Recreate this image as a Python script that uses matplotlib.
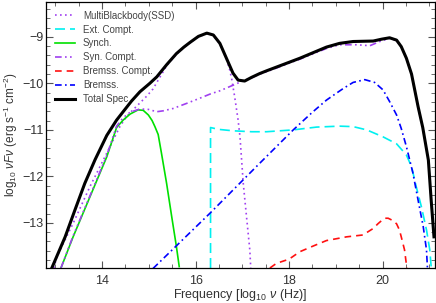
import matplotlib
matplotlib.use("Agg")
import matplotlib.pyplot as plt
import matplotlib.ticker as ticker

plt.rcParams['font.family'] = ['Liberation Sans', 'DejaVu Sans']
plt.rcParams['mathtext.fontset'] = 'custom'
plt.rcParams['mathtext.rm'] = 'Liberation Sans'
plt.rcParams['mathtext.it'] = 'Liberation Sans:italic'

# log10 nu (Hz), log10 nuFnu
ssd_x = [12.97, 13.03, 13.38, 13.74, 14.10, 14.38, 14.52, 14.63, 14.81, 14.95, 15.09, 15.20,
         15.30, 15.38, 15.59, 15.75, 15.88, 16.06, 16.24, 16.38, 16.52, 16.66, 16.73, 16.77,
         16.80, 16.83, 16.86, 16.91, 16.95, 17.02, 17.09, 17.16, 17.18]
ssd_y = [-13.97, -13.73, -13.01, -12.22, -11.50, -10.93, -10.72, -10.60, -10.42, -10.28, -10.12, -9.93,
         -9.76, -9.62, -9.37, -9.23, -9.13, -9.00, -8.93, -8.97, -9.15, -9.48, -9.71, -9.89,
         -10.07, -10.25, -10.45, -10.79, -11.15, -12.15, -12.87, -13.58, -13.97]

ext_x = [16.32, 16.32, 16.50, 16.80, 17.20, 17.52, 18.09, 18.59, 19.08, 19.37, 19.66, 20.01,
         20.30, 20.51, 20.62, 20.72, 20.83, 20.94, 21.01, 21.04]
ext_y = [-13.97, -10.95, -10.99, -11.02, -11.04, -11.04, -11.00, -10.94, -10.92, -10.93, -11.00, -11.15,
         -11.30, -11.54, -11.79, -12.22, -12.65, -13.15, -13.58, -13.94]

syn_x = [13.12, 13.38, 13.74, 14.10, 14.31, 14.45, 14.60, 14.77, 14.88, 14.99, 15.07, 15.13,
         15.20, 15.27, 15.38, 15.49, 15.59, 15.65]
syn_y = [-13.97, -13.30, -12.44, -11.58, -10.95, -10.79, -10.66, -10.57, -10.58, -10.68, -10.80, -10.93,
         -11.10, -11.50, -12.15, -12.87, -13.51, -13.94]

ssc_x = [13.12, 13.38, 13.74, 14.10, 14.31, 14.45, 14.60, 14.81, 14.99, 15.17, 15.31, 15.52,
         15.81, 16.09, 16.31, 16.52, 16.73, 16.85, 16.98, 17.20, 17.37, 17.52, 18.23, 18.80,
         19.08, 19.44, 19.73, 19.94, 20.15, 20.30, 20.40, 20.51, 20.62, 20.69, 20.76, 20.86,
         20.98, 21.04, 21.10]
ssc_y = [-13.97, -13.28, -12.42, -11.55, -10.92, -10.74, -10.62, -10.55, -10.56, -10.61, -10.59, -10.54,
         -10.43, -10.32, -10.23, -10.16, -10.07, -10.02, -9.96, -9.88, -9.80, -9.75, -9.48, -9.25,
         -9.17, -9.17, -9.19, -9.10, -9.03, -9.08, -9.22, -9.47, -9.81, -10.16, -10.51, -10.96,
         -11.66, -12.52, -13.31]

bc_x = [17.59, 17.73, 18.00, 18.23, 18.51, 18.80, 19.23, 19.58, 19.80, 19.90, 19.98, 20.05,
        20.12, 20.22, 20.30, 20.36, 20.40, 20.47, 20.52]
bc_y = [-13.97, -13.87, -13.78, -13.62, -13.50, -13.38, -13.30, -13.26, -13.12, -13.02, -12.95, -12.90,
        -12.90, -12.95, -13.02, -13.15, -13.30, -13.58, -13.97]

br_x = [15.09, 16.31, 17.30, 18.09, 18.50, 18.80, 19.00, 19.16, 19.37, 19.62, 19.83, 20.01,
        20.15, 20.30, 20.40, 20.51, 20.65, 20.76, 20.87, 20.94, 20.96]
br_y = [-13.98, -12.79, -11.79, -11.00, -10.62, -10.36, -10.22, -10.11, -9.98, -9.92, -9.98, -10.14,
        -10.39, -10.68, -10.97, -11.36, -11.93, -12.51, -13.08, -13.58, -13.97]

tot_x = [12.92, 13.21, 13.42, 13.63, 13.85, 14.10, 14.31, 14.45, 14.63, 14.81, 15.02, 15.17,
         15.38, 15.59, 15.75, 15.88, 16.06, 16.24, 16.38, 16.52, 16.66, 16.80, 16.91, 17.05,
         17.20, 17.37, 17.52, 18.23, 18.80, 19.08, 19.37, 19.80, 19.98, 20.15, 20.30, 20.40,
         20.51, 20.62, 20.69, 20.76, 20.86, 20.98, 21.04, 21.10]
tot_y = [-13.98, -13.30, -12.72, -12.15, -11.64, -11.12, -10.79, -10.61, -10.38, -10.18, -10.00, -9.86,
         -9.60, -9.36, -9.22, -9.12, -8.99, -8.92, -8.96, -9.14, -9.46, -9.78, -9.93, -9.95,
         -9.87, -9.79, -9.73, -9.46, -9.22, -9.14, -9.10, -9.09, -9.05, -9.02, -9.07, -9.21,
         -9.46, -9.80, -10.15, -10.50, -10.95, -11.65, -12.51, -13.30]

fig = plt.figure(figsize=(4.36, 3.03), dpi=100)
ax = fig.add_axes([0.1055, 0.1155, 0.892, 0.878])

purple = '#a040f0'
ax.plot(ssd_x, ssd_y, color=purple, lw=1.2, ls=(0, (1, 2.0)), label='MultiBlackbody(SSD)')
ax.plot(ext_x, ext_y, color='#00f0f0', lw=1.2, ls=(0, (6, 3)), label='Ext. Compt.')
ax.plot(syn_x, syn_y, color='#00e000', lw=1.2, label='Synch.')
ax.plot(ssc_x, ssc_y, color=purple, lw=1.2, ls=(0, (4, 2, 1, 2, 1, 2, 1, 2)), label='Syn. Compt.')
ax.plot(bc_x, bc_y, color='#ff1010', lw=1.2, ls=(0, (4, 3)), label='Bremss. Compt.')
ax.plot(br_x, br_y, color='#0000ff', lw=1.2, ls=(0, (4, 2, 1, 2)), label='Bremss.')
ax.plot(tot_x, tot_y, color='black', lw=2.2, label='Total Spec.')

ax.set_xlim(12.8, 21.12)
ax.set_ylim(-13.97, -8.25)

ax.xaxis.set_major_locator(ticker.MultipleLocator(2))
ax.xaxis.set_minor_locator(ticker.MultipleLocator(0.5))
ax.yaxis.set_major_locator(ticker.MultipleLocator(1))
ax.yaxis.set_minor_locator(ticker.MultipleLocator(0.2))
ax.tick_params(which='both', direction='in', top=True, right=True, color='#555555',
               labelcolor='#333333', labelsize=9)
ax.tick_params(which='major', length=5, width=0.8)
ax.tick_params(which='minor', length=3, width=0.6)
ax.tick_params(axis='x', pad=5)
ax.tick_params(axis='y', pad=1.5)
for s in ax.spines.values():
    s.set_linewidth(0.9)

ax.set_xlabel(r'Frequency [log$_{10}$ $\nu$ (Hz)]', fontsize=9, color='#333333', labelpad=0)
ax.set_ylabel(r'log$_{10}$ $\nu F\nu$ (erg s$^{-1}$ cm$^{-2}$)', fontsize=8.5, color='#333333')
ax.yaxis.set_label_coords(-0.068, 0.5)

leg = ax.legend(loc='upper left', frameon=False, fontsize=7, handlelength=2.1,
                handletextpad=0.8, labelspacing=0.4, borderaxespad=0.5)
for t in leg.get_texts():
    t.set_color('#444444')

fig.savefig('out.png', dpi=100)
